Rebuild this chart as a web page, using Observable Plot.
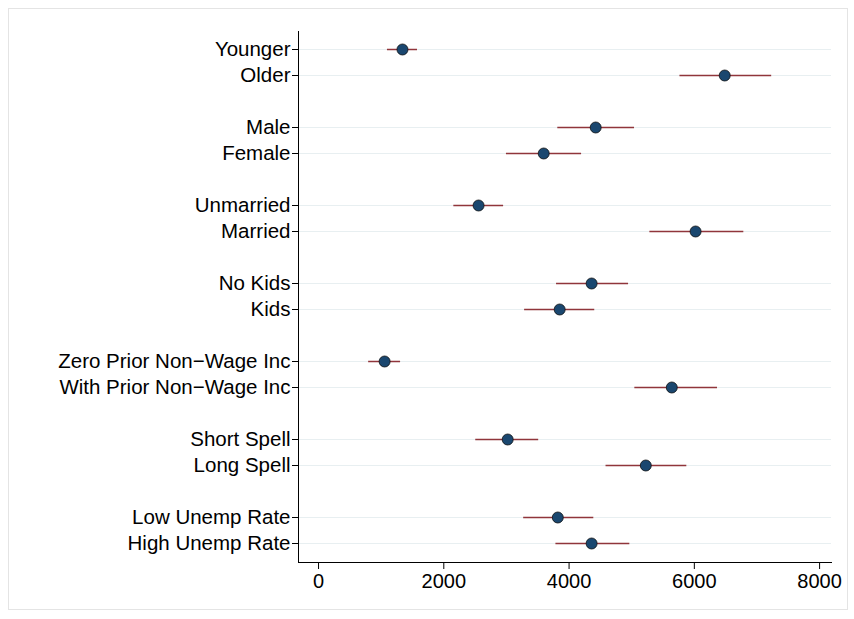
<!DOCTYPE html>
<html>
<head>
<script src="https://cdn.jsdelivr.net/npm/d3@7"></script>
<script src="https://cdn.jsdelivr.net/npm/@observablehq/plot@0.6"></script>
<style>
body { margin: 0; background: #fff; }
#chart svg { display: block; }
</style>
</head>
<body>
<div id="chart"></div>
<script>
// categories in display order, "_n" keys are blank gaps between groups
const labels = ["Younger", "Older", "_1", "Male", "Female", "_2", "Unmarried", "Married", "_3",
  "No Kids", "Kids", "_4", "Zero Prior Non\u2212Wage Inc", "With Prior Non\u2212Wage Inc", "_5",
  "Short Spell", "Long Spell", "_6", "Low Unemp Rate", "High Unemp Rate"]
const groups = labels.filter(d => !d.startsWith("_"))
const estimate = [1340, 6485, 4425, 3595, 2555, 6020, 4360, 3850, 1055, 5640, 3020, 5225, 3820, 4360]
const lower = [1100, 5770, 3820, 3000, 2160, 5290, 3800, 3290, 800, 5050, 2510, 4590, 3275, 3790]
const upper = [1580, 7235, 5045, 4200, 2955, 6790, 4950, 4410, 1310, 6370, 3515, 5880, 4395, 4970]
const xTicks = [0, 2000, 4000, 6000, 8000]

const data = groups.map((g, i) => ({g, est: estimate[i], lo: lower[i], hi: upper[i]}))

const chart = Plot.plot({
  width: 854,
  height: 619,
  marginLeft: 297,
  marginRight: 24,
  marginTop: 30,
  marginBottom: 58,
  style: {fontFamily: "Liberation Sans, Arial, sans-serif", fontSize: "20px", color: "#000", background: "#fff"},
  x: {domain: [-320, 8190], label: null},
  y: {type: "point", domain: labels, range: [43, 547], padding: 0, label: null},
  marks: [
    Plot.ruleY(groups, {stroke: "#e8eff1", strokeWidth: 1.2}),
    Plot.frame({anchor: "left", stroke: "#000"}),
    Plot.frame({anchor: "bottom", stroke: "#000"}),
    Plot.axisY(groups, {tickSize: 6, tickPadding: 2, fontSize: 20.5, fill: "#000"}),
    Plot.axisX(xTicks, {tickSize: 7, tickPadding: 4, fontSize: 20, fill: "#000", tickFormat: d => String(d)}),
    Plot.ruleY(data, {y: "g", x1: "lo", x2: "hi", stroke: "#90353b", strokeWidth: 1.5}),
    Plot.dot(data, {y: "g", x: "est", r: 5.5, fill: "#1a476f", stroke: "#111", strokeWidth: 0.8})
  ]
})
chart.style.border = "1px solid #e4e4e4"
chart.style.margin = "8px"
chart.setAttribute("width", 838)
chart.setAttribute("height", 600)
chart.setAttribute("viewBox", "8 8 838 600")
d3.select("#chart").append(() => chart)
</script>
</body>
</html>
